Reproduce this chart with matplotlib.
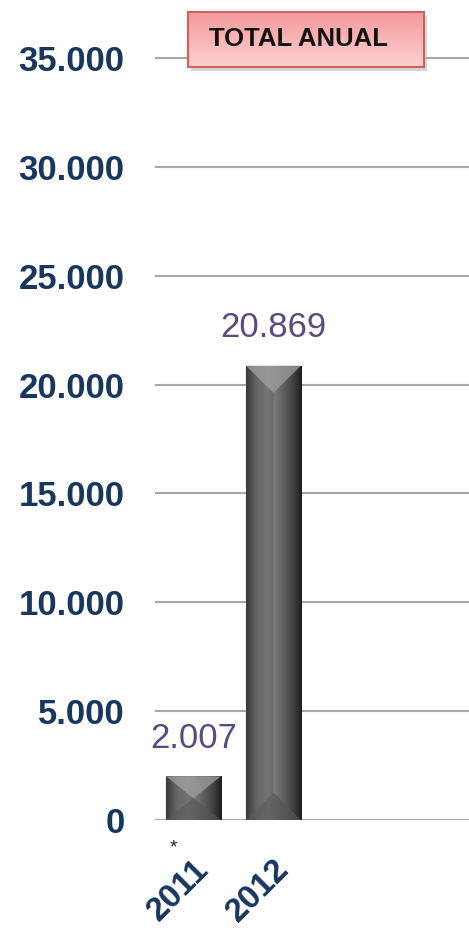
import numpy as np
import matplotlib.pyplot as plt
from matplotlib.patches import Polygon, FancyBboxPatch
from matplotlib.colors import LinearSegmentedColormap

years = ["2011", "2012"]
totals = [2007, 20869]
value_labels = ["2.007", "20.869"]
yticks = [0, 5000, 10000, 15000, 20000, 25000, 30000, 35000]
ytick_labels = ["0", "5.000", "10.000", "15.000", "20.000", "25.000", "30.000", "35.000"]

plt.rcParams['font.family'] = ['Liberation Sans', 'DejaVu Sans']
navy = '#17375E'

fig = plt.figure(figsize=(4.69, 9.31), dpi=100)
ax = fig.add_axes([0.3305, 0.1192, 0.6695, 0.8808])
x = np.arange(len(years))
width = 0.69

bars = ax.bar(x, totals, width=width, color='#5a5a5a', zorder=3)

# gradient fill + bevels to mimic the 3D bars
cmap = LinearSegmentedColormap.from_list('bar', ['#3c3c3c', '#7a7a7a', '#8c8c8c', '#6a6a6a', '#4a4a4a', '#1e1e1e'])
grad = np.linspace(0, 1, 256).reshape(1, -1)
for b, h in zip(bars, totals):
    x0, x1 = b.get_x(), b.get_x() + b.get_width()
    xc = (x0 + x1) / 2
    im = ax.imshow(grad, cmap=cmap, aspect='auto', extent=[x0, x1, 0, h], zorder=3.5)
    im.set_clip_path(b)
    d = min(1250, h / 2)
    ax.add_patch(Polygon([(x0, h), (x1, h), (xc, h - d)], closed=True,
                         facecolor='#9a9a9a', edgecolor='none', alpha=0.8, zorder=4))
    ax.add_patch(Polygon([(x0, 0), (x1, 0), (xc, d)], closed=True,
                         facecolor='#555555', edgecolor='none', alpha=0.7, zorder=4))
    ax.add_patch(Polygon([(x0, 0), (x0, h), (xc, h - d), (xc, d)], closed=True,
                         facecolor='#303030', edgecolor='none', alpha=0.25, zorder=4))

for xi, h, lab in zip(x, totals, value_labels):
    ax.text(xi, h + 1000, lab, ha='center', va='bottom', fontsize=25, color='#5B4A82', zorder=5)

ax.set_xlim(-0.48, 3.445)
ax.set_ylim(0, 37663)
ax.set_yticks(yticks)
ax.set_yticklabels(ytick_labels, fontsize=25, fontweight='bold', color=navy)
ax.set_xticks(x)
ax.set_xticklabels(years, fontsize=24, fontweight='bold', color=navy, rotation=45,
                   ha='right', va='top', rotation_mode='anchor')
ax.tick_params(axis='y', length=0, pad=22)
ax.tick_params(axis='x', length=0, pad=24)
ax.grid(axis='y', color='#a6a6a6', linewidth=1.5, zorder=1)
ax.set_axisbelow(True)
for s in ax.spines.values():
    s.set_visible(False)

# asterisk under 2011
fig.text(173 / 469, 1 - 848 / 931, '*', ha='center', va='center', fontsize=14, color='#222222')

# title box with vertical pink gradient
bx, by, bw, bh = 188 / 469, 1 - 67 / 931, 236 / 469, 55 / 931
shadow = FancyBboxPatch((bx + 3 / 469, by - 4 / 931), bw, bh,
                        boxstyle='square,pad=0', transform=fig.transFigure,
                        facecolor='#bbbbbb', edgecolor='none', alpha=0.6, zorder=9)
fig.patches.append(shadow)
bax = fig.add_axes([bx, by, bw, bh], zorder=10)
pink = LinearSegmentedColormap.from_list('pink', ['#F59A9A', '#FBD0D0'])
bax.imshow(np.linspace(0, 1, 64).reshape(-1, 1), cmap=pink, aspect='auto', extent=[0, 1, 0, 1])
bax.set_xticks([])
bax.set_yticks([])
for s in bax.spines.values():
    s.set_color('#D06060')
    s.set_linewidth(1.5)
bax.text(0.47, 0.5, 'TOTAL ANUAL', ha='center', va='center', fontsize=18.5,
         fontweight='bold', color='#111111', transform=bax.transAxes)

fig.savefig('out.png', dpi=100)
